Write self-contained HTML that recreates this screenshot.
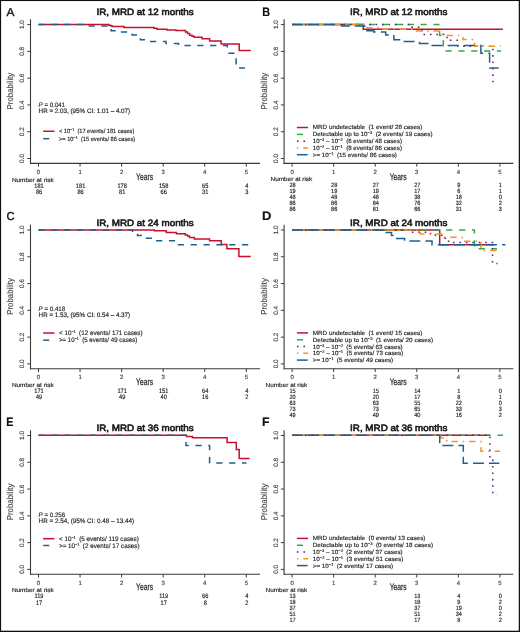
<!DOCTYPE html>
<html><head><meta charset="utf-8"><style>
html,body{margin:0;padding:0;background:#fff;}
svg{display:block;will-change:transform;}
text{font-family:"Liberation Sans", sans-serif;white-space:pre;text-rendering:geometricPrecision;}
</style></head><body>
<svg width="520" height="632" viewBox="0 0 520 632" font-family='"Liberation Sans", sans-serif'>
<rect x="0" y="0" width="520" height="632" fill="#fff"/>
<text transform="translate(6.5,16.2) scale(1.04,1)" font-size="11.4" fill="#111" stroke="#111" stroke-width="0.35">A</text>
<text x="145.10" y="15.00" font-size="9.2" text-anchor="middle" fill="#1a1a1a" font-weight="normal" textLength="97.3" lengthAdjust="spacingAndGlyphs" stroke="#1a1a1a" stroke-width="0.6">IR, MRD at 12 months</text>
<line x1="30.5" y1="19.3" x2="30.5" y2="163.9" stroke="#3a3a3a" stroke-width="1.1"/>
<line x1="27.3" y1="158.50" x2="30.5" y2="158.50" stroke="#3a3a3a" stroke-width="1"/>
<text transform="translate(23.90,158.50) rotate(-90)" font-size="6.4" text-anchor="middle" fill="#444" stroke="#444" stroke-width="0.15">0.0</text>
<line x1="27.3" y1="131.72" x2="30.5" y2="131.72" stroke="#3a3a3a" stroke-width="1"/>
<text transform="translate(23.90,131.72) rotate(-90)" font-size="6.4" text-anchor="middle" fill="#444" stroke="#444" stroke-width="0.15">0.2</text>
<line x1="27.3" y1="104.94" x2="30.5" y2="104.94" stroke="#3a3a3a" stroke-width="1"/>
<text transform="translate(23.90,104.94) rotate(-90)" font-size="6.4" text-anchor="middle" fill="#444" stroke="#444" stroke-width="0.15">0.4</text>
<line x1="27.3" y1="78.16" x2="30.5" y2="78.16" stroke="#3a3a3a" stroke-width="1"/>
<text transform="translate(23.90,78.16) rotate(-90)" font-size="6.4" text-anchor="middle" fill="#444" stroke="#444" stroke-width="0.15">0.6</text>
<line x1="27.3" y1="51.38" x2="30.5" y2="51.38" stroke="#3a3a3a" stroke-width="1"/>
<text transform="translate(23.90,51.38) rotate(-90)" font-size="6.4" text-anchor="middle" fill="#444" stroke="#444" stroke-width="0.15">0.8</text>
<line x1="27.3" y1="24.60" x2="30.5" y2="24.60" stroke="#3a3a3a" stroke-width="1"/>
<text transform="translate(23.90,24.60) rotate(-90)" font-size="6.4" text-anchor="middle" fill="#444" stroke="#444" stroke-width="0.15">1.0</text>
<text transform="translate(12.60,91.10) rotate(-90)" font-size="8.6" text-anchor="middle" fill="#484848" textLength="36.7" lengthAdjust="spacingAndGlyphs" stroke="#484848" stroke-width="0.15">Probability</text>
<line x1="30.0" y1="163.4" x2="260" y2="163.4" stroke="#3a3a3a" stroke-width="1.1"/>
<line x1="38.50" y1="163.4" x2="38.50" y2="166.6" stroke="#3a3a3a" stroke-width="1"/>
<text x="38.50" y="173.70" font-size="6.0" text-anchor="middle" fill="#444" font-weight="normal"  stroke="#444" stroke-width="0.15">0</text>
<line x1="80.06" y1="163.4" x2="80.06" y2="166.6" stroke="#3a3a3a" stroke-width="1"/>
<text x="80.06" y="173.70" font-size="6.0" text-anchor="middle" fill="#444" font-weight="normal"  stroke="#444" stroke-width="0.15">1</text>
<line x1="121.62" y1="163.4" x2="121.62" y2="166.6" stroke="#3a3a3a" stroke-width="1"/>
<text x="121.62" y="173.70" font-size="6.0" text-anchor="middle" fill="#444" font-weight="normal"  stroke="#444" stroke-width="0.15">2</text>
<line x1="163.18" y1="163.4" x2="163.18" y2="166.6" stroke="#3a3a3a" stroke-width="1"/>
<text x="163.18" y="173.70" font-size="6.0" text-anchor="middle" fill="#444" font-weight="normal"  stroke="#444" stroke-width="0.15">3</text>
<line x1="204.74" y1="163.4" x2="204.74" y2="166.6" stroke="#3a3a3a" stroke-width="1"/>
<text x="204.74" y="173.70" font-size="6.0" text-anchor="middle" fill="#444" font-weight="normal"  stroke="#444" stroke-width="0.15">4</text>
<line x1="246.30" y1="163.4" x2="246.30" y2="166.6" stroke="#3a3a3a" stroke-width="1"/>
<text x="246.30" y="173.70" font-size="6.0" text-anchor="middle" fill="#444" font-weight="normal"  stroke="#444" stroke-width="0.15">5</text>
<text x="136.10" y="179.50" font-size="9.5" text-anchor="start" fill="#2a2a2a" font-weight="normal" textLength="17.0" lengthAdjust="spacingAndGlyphs" stroke="#2a2a2a" stroke-width="0.25">Years</text>
<text x="38.60" y="106.70" font-size="6.5" fill="#222" textLength="26.6" lengthAdjust="spacingAndGlyphs" stroke="#222" stroke-width="0.15"><tspan font-style="italic">P</tspan> = 0.041</text>
<text x="38.60" y="112.70" font-size="6.4" text-anchor="start" fill="#222" font-weight="normal" textLength="91.6" lengthAdjust="spacingAndGlyphs"  stroke="#222" stroke-width="0.15">HR = 2.03, (95% CI: 1.01 – 4.07)</text>
<line x1="43.2" y1="131.25" x2="54.5" y2="131.25" stroke="#c41230" stroke-width="1.5"/>
<line x1="43.2" y1="138.7" x2="49.2" y2="138.7" stroke="#1f5f8e" stroke-width="1.5"/>
<text x="59.00" y="133.15" font-size="6.0" fill="#222" textLength="75.3" lengthAdjust="spacingAndGlyphs" stroke="#222" stroke-width="0.15">&lt; 10<tspan font-size="3.9" baseline-shift="2.3">−1</tspan>  (17 events/ 181 cases)</text>
<text x="59.00" y="140.60" font-size="6.0" fill="#222" textLength="76.2" lengthAdjust="spacingAndGlyphs" stroke="#222" stroke-width="0.15">&gt;= 10<tspan font-size="3.9" baseline-shift="2.3">−1</tspan>  (15 events/ 86 cases)</text>
<text x="11.90" y="181.50" font-size="5.9" text-anchor="start" fill="#222" font-weight="normal" textLength="41.8" lengthAdjust="spacingAndGlyphs"  stroke="#222" stroke-width="0.15">Number at risk</text>
<text transform="translate(39.00,187.50) scale(0.88,1)" font-size="6.4" text-anchor="middle" fill="#1a1a1a" stroke="#1a1a1a" stroke-width="0.15">181</text>
<text transform="translate(80.56,187.50) scale(0.88,1)" font-size="6.4" text-anchor="middle" fill="#1a1a1a" stroke="#1a1a1a" stroke-width="0.15">181</text>
<text transform="translate(122.12,187.50) scale(0.88,1)" font-size="6.4" text-anchor="middle" fill="#1a1a1a" stroke="#1a1a1a" stroke-width="0.15">178</text>
<text transform="translate(163.68,187.50) scale(0.88,1)" font-size="6.4" text-anchor="middle" fill="#1a1a1a" stroke="#1a1a1a" stroke-width="0.15">158</text>
<text transform="translate(205.24,187.50) scale(0.88,1)" font-size="6.4" text-anchor="middle" fill="#1a1a1a" stroke="#1a1a1a" stroke-width="0.15">65</text>
<text transform="translate(246.80,187.50) scale(0.88,1)" font-size="6.4" text-anchor="middle" fill="#1a1a1a" stroke="#1a1a1a" stroke-width="0.15">4</text>
<text transform="translate(39.00,193.80) scale(0.88,1)" font-size="6.4" text-anchor="middle" fill="#1a1a1a" stroke="#1a1a1a" stroke-width="0.15">86</text>
<text transform="translate(80.56,193.80) scale(0.88,1)" font-size="6.4" text-anchor="middle" fill="#1a1a1a" stroke="#1a1a1a" stroke-width="0.15">86</text>
<text transform="translate(122.12,193.80) scale(0.88,1)" font-size="6.4" text-anchor="middle" fill="#1a1a1a" stroke="#1a1a1a" stroke-width="0.15">81</text>
<text transform="translate(163.68,193.80) scale(0.88,1)" font-size="6.4" text-anchor="middle" fill="#1a1a1a" stroke="#1a1a1a" stroke-width="0.15">66</text>
<text transform="translate(205.24,193.80) scale(0.88,1)" font-size="6.4" text-anchor="middle" fill="#1a1a1a" stroke="#1a1a1a" stroke-width="0.15">31</text>
<text transform="translate(246.80,193.80) scale(0.88,1)" font-size="6.4" text-anchor="middle" fill="#1a1a1a" stroke="#1a1a1a" stroke-width="0.15">3</text>
<path d="M38.50,24.50H108.70V25.20H110.40V25.80H112.00V26.40H124.00V27.40H153.80V28.20H157.00V29.20H167.00V29.90H176.00V30.60H185.50V32.00H187.50V33.50H189.60V35.20H192.00V36.20H194.20V37.20H202.10V38.70H209.60V41.00H221.10V44.10H239.20V50.40H250.80" fill="none" stroke="#c41230" stroke-width="1.5" stroke-linejoin="miter"/>
<path d="M38.50,24.50H88.00V25.90H111.10V30.70H120.20V32.10H132.20V35.00H140.40V39.80H146.00V41.50H166.00V43.50H178.50V45.60H227.40V53.20H236.10V68.10H245.00" fill="none" stroke="#1f5f8e" stroke-width="1.5" stroke-dasharray="6.2 6.65" stroke-linejoin="miter"/>
<text transform="translate(6.4,220.4) scale(0.99,1)" font-size="11.4" fill="#111" stroke="#111" stroke-width="0.35">C</text>
<text x="145.10" y="225.60" font-size="9.2" text-anchor="middle" fill="#1a1a1a" font-weight="normal" textLength="97.3" lengthAdjust="spacingAndGlyphs" stroke="#1a1a1a" stroke-width="0.6">IR, MRD at 24 months</text>
<line x1="30.5" y1="224.70000000000002" x2="30.5" y2="369.3" stroke="#3a3a3a" stroke-width="1.1"/>
<line x1="27.3" y1="363.90" x2="30.5" y2="363.90" stroke="#3a3a3a" stroke-width="1"/>
<text transform="translate(23.90,363.90) rotate(-90)" font-size="6.4" text-anchor="middle" fill="#444" stroke="#444" stroke-width="0.15">0.0</text>
<line x1="27.3" y1="337.12" x2="30.5" y2="337.12" stroke="#3a3a3a" stroke-width="1"/>
<text transform="translate(23.90,337.12) rotate(-90)" font-size="6.4" text-anchor="middle" fill="#444" stroke="#444" stroke-width="0.15">0.2</text>
<line x1="27.3" y1="310.34" x2="30.5" y2="310.34" stroke="#3a3a3a" stroke-width="1"/>
<text transform="translate(23.90,310.34) rotate(-90)" font-size="6.4" text-anchor="middle" fill="#444" stroke="#444" stroke-width="0.15">0.4</text>
<line x1="27.3" y1="283.56" x2="30.5" y2="283.56" stroke="#3a3a3a" stroke-width="1"/>
<text transform="translate(23.90,283.56) rotate(-90)" font-size="6.4" text-anchor="middle" fill="#444" stroke="#444" stroke-width="0.15">0.6</text>
<line x1="27.3" y1="256.78" x2="30.5" y2="256.78" stroke="#3a3a3a" stroke-width="1"/>
<text transform="translate(23.90,256.78) rotate(-90)" font-size="6.4" text-anchor="middle" fill="#444" stroke="#444" stroke-width="0.15">0.8</text>
<line x1="27.3" y1="230.00" x2="30.5" y2="230.00" stroke="#3a3a3a" stroke-width="1"/>
<text transform="translate(23.90,230.00) rotate(-90)" font-size="6.4" text-anchor="middle" fill="#444" stroke="#444" stroke-width="0.15">1.0</text>
<text transform="translate(12.60,296.50) rotate(-90)" font-size="8.6" text-anchor="middle" fill="#484848" textLength="36.7" lengthAdjust="spacingAndGlyphs" stroke="#484848" stroke-width="0.15">Probability</text>
<line x1="30.0" y1="368.8" x2="260" y2="368.8" stroke="#3a3a3a" stroke-width="1.1"/>
<line x1="38.50" y1="368.8" x2="38.50" y2="372.0" stroke="#3a3a3a" stroke-width="1"/>
<text x="38.50" y="379.10" font-size="6.0" text-anchor="middle" fill="#444" font-weight="normal"  stroke="#444" stroke-width="0.15">0</text>
<line x1="80.06" y1="368.8" x2="80.06" y2="372.0" stroke="#3a3a3a" stroke-width="1"/>
<text x="80.06" y="379.10" font-size="6.0" text-anchor="middle" fill="#444" font-weight="normal"  stroke="#444" stroke-width="0.15">1</text>
<line x1="121.62" y1="368.8" x2="121.62" y2="372.0" stroke="#3a3a3a" stroke-width="1"/>
<text x="121.62" y="379.10" font-size="6.0" text-anchor="middle" fill="#444" font-weight="normal"  stroke="#444" stroke-width="0.15">2</text>
<line x1="163.18" y1="368.8" x2="163.18" y2="372.0" stroke="#3a3a3a" stroke-width="1"/>
<text x="163.18" y="379.10" font-size="6.0" text-anchor="middle" fill="#444" font-weight="normal"  stroke="#444" stroke-width="0.15">3</text>
<line x1="204.74" y1="368.8" x2="204.74" y2="372.0" stroke="#3a3a3a" stroke-width="1"/>
<text x="204.74" y="379.10" font-size="6.0" text-anchor="middle" fill="#444" font-weight="normal"  stroke="#444" stroke-width="0.15">4</text>
<line x1="246.30" y1="368.8" x2="246.30" y2="372.0" stroke="#3a3a3a" stroke-width="1"/>
<text x="246.30" y="379.10" font-size="6.0" text-anchor="middle" fill="#444" font-weight="normal"  stroke="#444" stroke-width="0.15">5</text>
<text x="136.10" y="384.90" font-size="9.5" text-anchor="start" fill="#2a2a2a" font-weight="normal" textLength="17.0" lengthAdjust="spacingAndGlyphs" stroke="#2a2a2a" stroke-width="0.25">Years</text>
<text x="38.60" y="311.10" font-size="6.5" fill="#222" textLength="26.6" lengthAdjust="spacingAndGlyphs" stroke="#222" stroke-width="0.15"><tspan font-style="italic">P</tspan> = 0.418</text>
<text x="38.60" y="317.10" font-size="6.4" text-anchor="start" fill="#222" font-weight="normal" textLength="91.6" lengthAdjust="spacingAndGlyphs"  stroke="#222" stroke-width="0.15">HR = 1.53, (95% CI: 0.54 – 4.37)</text>
<line x1="43.2" y1="333.0" x2="54.5" y2="333.0" stroke="#c41230" stroke-width="1.5"/>
<line x1="43.2" y1="340.20000000000005" x2="49.2" y2="340.20000000000005" stroke="#1f5f8e" stroke-width="1.5"/>
<text x="59.00" y="335.20" font-size="6.6" fill="#222" textLength="83.6" lengthAdjust="spacingAndGlyphs" stroke="#222" stroke-width="0.15">&lt; 10<tspan font-size="3.9" baseline-shift="2.3">−1</tspan>  (12 events/ 171 cases)</text>
<text x="59.00" y="342.40" font-size="6.6" fill="#222" textLength="78.3" lengthAdjust="spacingAndGlyphs" stroke="#222" stroke-width="0.15">&gt;= 10<tspan font-size="3.9" baseline-shift="2.3">−1</tspan>  (5 events/ 49 cases)</text>
<text x="11.90" y="386.90" font-size="5.9" text-anchor="start" fill="#222" font-weight="normal" textLength="41.8" lengthAdjust="spacingAndGlyphs"  stroke="#222" stroke-width="0.15">Number at risk</text>
<text transform="translate(39.00,392.90) scale(0.88,1)" font-size="6.4" text-anchor="middle" fill="#1a1a1a" stroke="#1a1a1a" stroke-width="0.15">171</text>
<text transform="translate(122.12,392.90) scale(0.88,1)" font-size="6.4" text-anchor="middle" fill="#1a1a1a" stroke="#1a1a1a" stroke-width="0.15">171</text>
<text transform="translate(163.68,392.90) scale(0.88,1)" font-size="6.4" text-anchor="middle" fill="#1a1a1a" stroke="#1a1a1a" stroke-width="0.15">151</text>
<text transform="translate(205.24,392.90) scale(0.88,1)" font-size="6.4" text-anchor="middle" fill="#1a1a1a" stroke="#1a1a1a" stroke-width="0.15">64</text>
<text transform="translate(246.80,392.90) scale(0.88,1)" font-size="6.4" text-anchor="middle" fill="#1a1a1a" stroke="#1a1a1a" stroke-width="0.15">4</text>
<text transform="translate(39.00,399.20) scale(0.88,1)" font-size="6.4" text-anchor="middle" fill="#1a1a1a" stroke="#1a1a1a" stroke-width="0.15">49</text>
<text transform="translate(122.12,399.20) scale(0.88,1)" font-size="6.4" text-anchor="middle" fill="#1a1a1a" stroke="#1a1a1a" stroke-width="0.15">49</text>
<text transform="translate(163.68,399.20) scale(0.88,1)" font-size="6.4" text-anchor="middle" fill="#1a1a1a" stroke="#1a1a1a" stroke-width="0.15">40</text>
<text transform="translate(205.24,399.20) scale(0.88,1)" font-size="6.4" text-anchor="middle" fill="#1a1a1a" stroke="#1a1a1a" stroke-width="0.15">16</text>
<text transform="translate(246.80,399.20) scale(0.88,1)" font-size="6.4" text-anchor="middle" fill="#1a1a1a" stroke="#1a1a1a" stroke-width="0.15">2</text>
<path d="M38.50,230.00H154.30V230.80H166.30V232.40H176.40V233.80H185.40V235.00H187.50V236.10H189.50V237.40H194.40V239.10H209.50V240.80H221.20V244.50H226.90V248.80H238.90V256.50H250.80" fill="none" stroke="#c41230" stroke-width="1.5" stroke-linejoin="miter"/>
<path d="M38.50,229.90H132.50V232.40H137.50V235.60H143.00V238.30H153.00V240.80H176.00V244.80H248.50" fill="none" stroke="#1f5f8e" stroke-width="1.5" stroke-dasharray="6.2 6.65" stroke-linejoin="miter"/>
<text transform="translate(6.2,425.8) scale(0.88,1)" font-size="12.2" font-weight="bold" fill="#111" stroke="#111" stroke-width="0.15">E</text>
<text x="145.10" y="430.60" font-size="9.2" text-anchor="middle" fill="#1a1a1a" font-weight="normal" textLength="97.3" lengthAdjust="spacingAndGlyphs" stroke="#1a1a1a" stroke-width="0.6">IR, MRD at 36 months</text>
<line x1="30.5" y1="430.2" x2="30.5" y2="574.8" stroke="#3a3a3a" stroke-width="1.1"/>
<line x1="27.3" y1="569.40" x2="30.5" y2="569.40" stroke="#3a3a3a" stroke-width="1"/>
<text transform="translate(23.90,569.40) rotate(-90)" font-size="6.4" text-anchor="middle" fill="#444" stroke="#444" stroke-width="0.15">0.0</text>
<line x1="27.3" y1="542.62" x2="30.5" y2="542.62" stroke="#3a3a3a" stroke-width="1"/>
<text transform="translate(23.90,542.62) rotate(-90)" font-size="6.4" text-anchor="middle" fill="#444" stroke="#444" stroke-width="0.15">0.2</text>
<line x1="27.3" y1="515.84" x2="30.5" y2="515.84" stroke="#3a3a3a" stroke-width="1"/>
<text transform="translate(23.90,515.84) rotate(-90)" font-size="6.4" text-anchor="middle" fill="#444" stroke="#444" stroke-width="0.15">0.4</text>
<line x1="27.3" y1="489.06" x2="30.5" y2="489.06" stroke="#3a3a3a" stroke-width="1"/>
<text transform="translate(23.90,489.06) rotate(-90)" font-size="6.4" text-anchor="middle" fill="#444" stroke="#444" stroke-width="0.15">0.6</text>
<line x1="27.3" y1="462.28" x2="30.5" y2="462.28" stroke="#3a3a3a" stroke-width="1"/>
<text transform="translate(23.90,462.28) rotate(-90)" font-size="6.4" text-anchor="middle" fill="#444" stroke="#444" stroke-width="0.15">0.8</text>
<line x1="27.3" y1="435.50" x2="30.5" y2="435.50" stroke="#3a3a3a" stroke-width="1"/>
<text transform="translate(23.90,435.50) rotate(-90)" font-size="6.4" text-anchor="middle" fill="#444" stroke="#444" stroke-width="0.15">1.0</text>
<text transform="translate(12.60,502.00) rotate(-90)" font-size="8.6" text-anchor="middle" fill="#484848" textLength="36.7" lengthAdjust="spacingAndGlyphs" stroke="#484848" stroke-width="0.15">Probability</text>
<line x1="30.0" y1="574.3" x2="260" y2="574.3" stroke="#3a3a3a" stroke-width="1.1"/>
<line x1="38.50" y1="574.3" x2="38.50" y2="577.5" stroke="#3a3a3a" stroke-width="1"/>
<text x="38.50" y="584.60" font-size="6.0" text-anchor="middle" fill="#444" font-weight="normal"  stroke="#444" stroke-width="0.15">0</text>
<line x1="80.06" y1="574.3" x2="80.06" y2="577.5" stroke="#3a3a3a" stroke-width="1"/>
<text x="80.06" y="584.60" font-size="6.0" text-anchor="middle" fill="#444" font-weight="normal"  stroke="#444" stroke-width="0.15">1</text>
<line x1="121.62" y1="574.3" x2="121.62" y2="577.5" stroke="#3a3a3a" stroke-width="1"/>
<text x="121.62" y="584.60" font-size="6.0" text-anchor="middle" fill="#444" font-weight="normal"  stroke="#444" stroke-width="0.15">2</text>
<line x1="163.18" y1="574.3" x2="163.18" y2="577.5" stroke="#3a3a3a" stroke-width="1"/>
<text x="163.18" y="584.60" font-size="6.0" text-anchor="middle" fill="#444" font-weight="normal"  stroke="#444" stroke-width="0.15">3</text>
<line x1="204.74" y1="574.3" x2="204.74" y2="577.5" stroke="#3a3a3a" stroke-width="1"/>
<text x="204.74" y="584.60" font-size="6.0" text-anchor="middle" fill="#444" font-weight="normal"  stroke="#444" stroke-width="0.15">4</text>
<line x1="246.30" y1="574.3" x2="246.30" y2="577.5" stroke="#3a3a3a" stroke-width="1"/>
<text x="246.30" y="584.60" font-size="6.0" text-anchor="middle" fill="#444" font-weight="normal"  stroke="#444" stroke-width="0.15">5</text>
<text x="136.10" y="590.40" font-size="9.5" text-anchor="start" fill="#2a2a2a" font-weight="normal" textLength="17.0" lengthAdjust="spacingAndGlyphs" stroke="#2a2a2a" stroke-width="0.25">Years</text>
<text x="38.60" y="516.70" font-size="6.5" fill="#222" textLength="26.6" lengthAdjust="spacingAndGlyphs" stroke="#222" stroke-width="0.15"><tspan font-style="italic">P</tspan> = 0.256</text>
<text x="38.60" y="522.70" font-size="6.4" text-anchor="start" fill="#222" font-weight="normal" textLength="95.5" lengthAdjust="spacingAndGlyphs"  stroke="#222" stroke-width="0.15">HR = 2.54, (95% CI: 0.48 – 13.44)</text>
<line x1="43.2" y1="538.6999999999999" x2="54.5" y2="538.6999999999999" stroke="#c41230" stroke-width="1.5"/>
<line x1="43.2" y1="545.5" x2="49.2" y2="545.5" stroke="#1f5f8e" stroke-width="1.5"/>
<text x="59.00" y="540.90" font-size="6.6" fill="#222" textLength="79.8" lengthAdjust="spacingAndGlyphs" stroke="#222" stroke-width="0.15">&lt; 10<tspan font-size="3.9" baseline-shift="2.3">−1</tspan>  (5 events/ 119 cases)</text>
<text x="59.00" y="547.70" font-size="6.6" fill="#222" textLength="80.6" lengthAdjust="spacingAndGlyphs" stroke="#222" stroke-width="0.15">&gt;= 10<tspan font-size="3.9" baseline-shift="2.3">−1</tspan>  (2 events/ 17 cases)</text>
<text x="11.90" y="592.40" font-size="5.9" text-anchor="start" fill="#222" font-weight="normal" textLength="41.8" lengthAdjust="spacingAndGlyphs"  stroke="#222" stroke-width="0.15">Number at risk</text>
<text transform="translate(39.00,598.40) scale(0.88,1)" font-size="6.4" text-anchor="middle" fill="#1a1a1a" stroke="#1a1a1a" stroke-width="0.15">119</text>
<text transform="translate(163.68,598.40) scale(0.88,1)" font-size="6.4" text-anchor="middle" fill="#1a1a1a" stroke="#1a1a1a" stroke-width="0.15">119</text>
<text transform="translate(205.24,598.40) scale(0.88,1)" font-size="6.4" text-anchor="middle" fill="#1a1a1a" stroke="#1a1a1a" stroke-width="0.15">66</text>
<text transform="translate(246.80,598.40) scale(0.88,1)" font-size="6.4" text-anchor="middle" fill="#1a1a1a" stroke="#1a1a1a" stroke-width="0.15">4</text>
<text transform="translate(39.00,604.70) scale(0.88,1)" font-size="6.4" text-anchor="middle" fill="#1a1a1a" stroke="#1a1a1a" stroke-width="0.15">17</text>
<text transform="translate(163.68,604.70) scale(0.88,1)" font-size="6.4" text-anchor="middle" fill="#1a1a1a" stroke="#1a1a1a" stroke-width="0.15">17</text>
<text transform="translate(205.24,604.70) scale(0.88,1)" font-size="6.4" text-anchor="middle" fill="#1a1a1a" stroke="#1a1a1a" stroke-width="0.15">8</text>
<text transform="translate(246.80,604.70) scale(0.88,1)" font-size="6.4" text-anchor="middle" fill="#1a1a1a" stroke="#1a1a1a" stroke-width="0.15">2</text>
<path d="M38.50,435.30H186.40V436.60H192.50V437.80H227.10V442.50H236.30V449.40H239.20V458.50H249.60" fill="none" stroke="#c41230" stroke-width="1.5" stroke-linejoin="miter"/>
<path d="M38.50,435.30H186.00V445.40H209.60V463.10H246.50" fill="none" stroke="#1f5f8e" stroke-width="1.5" stroke-dasharray="6.2 6.65" stroke-linejoin="miter"/>
<text transform="translate(262.2,16.1) scale(0.89,1)" font-size="12.2" font-weight="bold" fill="#111" stroke="#111" stroke-width="0.15">B</text>
<text x="398.70" y="15.00" font-size="9.2" text-anchor="middle" fill="#1a1a1a" font-weight="normal" textLength="97.3" lengthAdjust="spacingAndGlyphs" stroke="#1a1a1a" stroke-width="0.6">IR, MRD at 12 months</text>
<line x1="284.1" y1="19.3" x2="284.1" y2="163.9" stroke="#3a3a3a" stroke-width="1.1"/>
<line x1="280.90000000000003" y1="158.50" x2="284.1" y2="158.50" stroke="#3a3a3a" stroke-width="1"/>
<text transform="translate(277.50,158.50) rotate(-90)" font-size="6.4" text-anchor="middle" fill="#444" stroke="#444" stroke-width="0.15">0.0</text>
<line x1="280.90000000000003" y1="131.72" x2="284.1" y2="131.72" stroke="#3a3a3a" stroke-width="1"/>
<text transform="translate(277.50,131.72) rotate(-90)" font-size="6.4" text-anchor="middle" fill="#444" stroke="#444" stroke-width="0.15">0.2</text>
<line x1="280.90000000000003" y1="104.94" x2="284.1" y2="104.94" stroke="#3a3a3a" stroke-width="1"/>
<text transform="translate(277.50,104.94) rotate(-90)" font-size="6.4" text-anchor="middle" fill="#444" stroke="#444" stroke-width="0.15">0.4</text>
<line x1="280.90000000000003" y1="78.16" x2="284.1" y2="78.16" stroke="#3a3a3a" stroke-width="1"/>
<text transform="translate(277.50,78.16) rotate(-90)" font-size="6.4" text-anchor="middle" fill="#444" stroke="#444" stroke-width="0.15">0.6</text>
<line x1="280.90000000000003" y1="51.38" x2="284.1" y2="51.38" stroke="#3a3a3a" stroke-width="1"/>
<text transform="translate(277.50,51.38) rotate(-90)" font-size="6.4" text-anchor="middle" fill="#444" stroke="#444" stroke-width="0.15">0.8</text>
<line x1="280.90000000000003" y1="24.60" x2="284.1" y2="24.60" stroke="#3a3a3a" stroke-width="1"/>
<text transform="translate(277.50,24.60) rotate(-90)" font-size="6.4" text-anchor="middle" fill="#444" stroke="#444" stroke-width="0.15">1.0</text>
<text transform="translate(267.20,91.10) rotate(-90)" font-size="8.6" text-anchor="middle" fill="#484848" textLength="36.7" lengthAdjust="spacingAndGlyphs" stroke="#484848" stroke-width="0.15">Probability</text>
<line x1="283.6" y1="163.4" x2="513.3" y2="163.4" stroke="#3a3a3a" stroke-width="1.1"/>
<line x1="292.10" y1="163.4" x2="292.10" y2="166.6" stroke="#3a3a3a" stroke-width="1"/>
<text x="292.10" y="173.70" font-size="6.0" text-anchor="middle" fill="#444" font-weight="normal"  stroke="#444" stroke-width="0.15">0</text>
<line x1="333.66" y1="163.4" x2="333.66" y2="166.6" stroke="#3a3a3a" stroke-width="1"/>
<text x="333.66" y="173.70" font-size="6.0" text-anchor="middle" fill="#444" font-weight="normal"  stroke="#444" stroke-width="0.15">1</text>
<line x1="375.22" y1="163.4" x2="375.22" y2="166.6" stroke="#3a3a3a" stroke-width="1"/>
<text x="375.22" y="173.70" font-size="6.0" text-anchor="middle" fill="#444" font-weight="normal"  stroke="#444" stroke-width="0.15">2</text>
<line x1="416.78" y1="163.4" x2="416.78" y2="166.6" stroke="#3a3a3a" stroke-width="1"/>
<text x="416.78" y="173.70" font-size="6.0" text-anchor="middle" fill="#444" font-weight="normal"  stroke="#444" stroke-width="0.15">3</text>
<line x1="458.34" y1="163.4" x2="458.34" y2="166.6" stroke="#3a3a3a" stroke-width="1"/>
<text x="458.34" y="173.70" font-size="6.0" text-anchor="middle" fill="#444" font-weight="normal"  stroke="#444" stroke-width="0.15">4</text>
<line x1="499.90" y1="163.4" x2="499.90" y2="166.6" stroke="#3a3a3a" stroke-width="1"/>
<text x="499.90" y="173.70" font-size="6.0" text-anchor="middle" fill="#444" font-weight="normal"  stroke="#444" stroke-width="0.15">5</text>
<text x="389.70" y="179.50" font-size="9.5" text-anchor="start" fill="#2a2a2a" font-weight="normal" textLength="17.0" lengthAdjust="spacingAndGlyphs" stroke="#2a2a2a" stroke-width="0.25">Years</text>
<line x1="296.9" y1="127.5" x2="308.1" y2="127.5" stroke="#c41230" stroke-width="1.5"/>
<line x1="296.9" y1="134.4" x2="303.0" y2="134.4" stroke="#2eac45" stroke-width="1.5"/>
<line x1="296.9" y1="141.2" x2="308.1" y2="141.2" stroke="#5b2278" stroke-width="1.5" stroke-dasharray="1.6 4.9"/>
<line x1="296.9" y1="147.9" x2="308.1" y2="147.9" stroke="#f7941d" stroke-width="1.5" stroke-dasharray="1.4 4.9 6.4 4.9"/>
<line x1="296.9" y1="154.7" x2="307.70000000000005" y2="154.7" stroke="#1f5f8e" stroke-width="1.5"/>
<text x="312.80" y="129.40" font-size="6" fill="#222" textLength="109.5" lengthAdjust="spacingAndGlyphs" stroke="#222" stroke-width="0.15">MRD undetectable  (1 event/ 28 cases)</text>
<text x="312.80" y="136.30" font-size="6" fill="#222" textLength="119.8" lengthAdjust="spacingAndGlyphs" stroke="#222" stroke-width="0.15">Detectable up to 10<tspan font-size="3.9" baseline-shift="2.3">−3</tspan>  (2 events/ 19 cases)</text>
<text x="312.80" y="143.10" font-size="6" fill="#222" textLength="89.2" lengthAdjust="spacingAndGlyphs" stroke="#222" stroke-width="0.15">10<tspan font-size="3.9" baseline-shift="2.3">−3</tspan> – 10<tspan font-size="3.9" baseline-shift="2.3">−2</tspan>  (6 events/ 48 cases)</text>
<text x="312.80" y="149.80" font-size="6" fill="#222" textLength="89.2" lengthAdjust="spacingAndGlyphs" stroke="#222" stroke-width="0.15">10<tspan font-size="3.9" baseline-shift="2.3">−2</tspan> – 10<tspan font-size="3.9" baseline-shift="2.3">−1</tspan>  (8 events/ 86 cases)</text>
<text x="312.80" y="156.60" font-size="6" fill="#222" textLength="84.1" lengthAdjust="spacingAndGlyphs" stroke="#222" stroke-width="0.15">&gt;= 10<tspan font-size="3.9" baseline-shift="2.3">−1</tspan>  (15 events/ 86 cases)</text>
<text x="270.50" y="181.30" font-size="5.9" text-anchor="start" fill="#222" font-weight="normal" textLength="41.8" lengthAdjust="spacingAndGlyphs"  stroke="#222" stroke-width="0.15">Number at risk</text>
<text transform="translate(292.60,187.10) scale(0.9,1)" font-size="6.2" text-anchor="middle" fill="#1a1a1a" stroke="#1a1a1a" stroke-width="0.15">28</text>
<text transform="translate(334.16,187.10) scale(0.9,1)" font-size="6.2" text-anchor="middle" fill="#1a1a1a" stroke="#1a1a1a" stroke-width="0.15">28</text>
<text transform="translate(375.72,187.10) scale(0.9,1)" font-size="6.2" text-anchor="middle" fill="#1a1a1a" stroke="#1a1a1a" stroke-width="0.15">27</text>
<text transform="translate(417.28,187.10) scale(0.9,1)" font-size="6.2" text-anchor="middle" fill="#1a1a1a" stroke="#1a1a1a" stroke-width="0.15">27</text>
<text transform="translate(458.84,187.10) scale(0.9,1)" font-size="6.2" text-anchor="middle" fill="#1a1a1a" stroke="#1a1a1a" stroke-width="0.15">9</text>
<text transform="translate(500.40,187.10) scale(0.9,1)" font-size="6.2" text-anchor="middle" fill="#1a1a1a" stroke="#1a1a1a" stroke-width="0.15">1</text>
<text transform="translate(292.60,193.10) scale(0.9,1)" font-size="6.2" text-anchor="middle" fill="#1a1a1a" stroke="#1a1a1a" stroke-width="0.15">19</text>
<text transform="translate(334.16,193.10) scale(0.9,1)" font-size="6.2" text-anchor="middle" fill="#1a1a1a" stroke="#1a1a1a" stroke-width="0.15">19</text>
<text transform="translate(375.72,193.10) scale(0.9,1)" font-size="6.2" text-anchor="middle" fill="#1a1a1a" stroke="#1a1a1a" stroke-width="0.15">19</text>
<text transform="translate(417.28,193.10) scale(0.9,1)" font-size="6.2" text-anchor="middle" fill="#1a1a1a" stroke="#1a1a1a" stroke-width="0.15">17</text>
<text transform="translate(458.84,193.10) scale(0.9,1)" font-size="6.2" text-anchor="middle" fill="#1a1a1a" stroke="#1a1a1a" stroke-width="0.15">6</text>
<text transform="translate(500.40,193.10) scale(0.9,1)" font-size="6.2" text-anchor="middle" fill="#1a1a1a" stroke="#1a1a1a" stroke-width="0.15">1</text>
<text transform="translate(292.60,199.10) scale(0.9,1)" font-size="6.2" text-anchor="middle" fill="#1a1a1a" stroke="#1a1a1a" stroke-width="0.15">48</text>
<text transform="translate(334.16,199.10) scale(0.9,1)" font-size="6.2" text-anchor="middle" fill="#1a1a1a" stroke="#1a1a1a" stroke-width="0.15">48</text>
<text transform="translate(375.72,199.10) scale(0.9,1)" font-size="6.2" text-anchor="middle" fill="#1a1a1a" stroke="#1a1a1a" stroke-width="0.15">48</text>
<text transform="translate(417.28,199.10) scale(0.9,1)" font-size="6.2" text-anchor="middle" fill="#1a1a1a" stroke="#1a1a1a" stroke-width="0.15">38</text>
<text transform="translate(458.84,199.10) scale(0.9,1)" font-size="6.2" text-anchor="middle" fill="#1a1a1a" stroke="#1a1a1a" stroke-width="0.15">18</text>
<text transform="translate(500.40,199.10) scale(0.9,1)" font-size="6.2" text-anchor="middle" fill="#1a1a1a" stroke="#1a1a1a" stroke-width="0.15">0</text>
<text transform="translate(292.60,205.10) scale(0.9,1)" font-size="6.2" text-anchor="middle" fill="#1a1a1a" stroke="#1a1a1a" stroke-width="0.15">86</text>
<text transform="translate(334.16,205.10) scale(0.9,1)" font-size="6.2" text-anchor="middle" fill="#1a1a1a" stroke="#1a1a1a" stroke-width="0.15">86</text>
<text transform="translate(375.72,205.10) scale(0.9,1)" font-size="6.2" text-anchor="middle" fill="#1a1a1a" stroke="#1a1a1a" stroke-width="0.15">84</text>
<text transform="translate(417.28,205.10) scale(0.9,1)" font-size="6.2" text-anchor="middle" fill="#1a1a1a" stroke="#1a1a1a" stroke-width="0.15">76</text>
<text transform="translate(458.84,205.10) scale(0.9,1)" font-size="6.2" text-anchor="middle" fill="#1a1a1a" stroke="#1a1a1a" stroke-width="0.15">32</text>
<text transform="translate(500.40,205.10) scale(0.9,1)" font-size="6.2" text-anchor="middle" fill="#1a1a1a" stroke="#1a1a1a" stroke-width="0.15">2</text>
<text transform="translate(292.60,211.10) scale(0.9,1)" font-size="6.2" text-anchor="middle" fill="#1a1a1a" stroke="#1a1a1a" stroke-width="0.15">86</text>
<text transform="translate(334.16,211.10) scale(0.9,1)" font-size="6.2" text-anchor="middle" fill="#1a1a1a" stroke="#1a1a1a" stroke-width="0.15">86</text>
<text transform="translate(375.72,211.10) scale(0.9,1)" font-size="6.2" text-anchor="middle" fill="#1a1a1a" stroke="#1a1a1a" stroke-width="0.15">81</text>
<text transform="translate(417.28,211.10) scale(0.9,1)" font-size="6.2" text-anchor="middle" fill="#1a1a1a" stroke="#1a1a1a" stroke-width="0.15">66</text>
<text transform="translate(458.84,211.10) scale(0.9,1)" font-size="6.2" text-anchor="middle" fill="#1a1a1a" stroke="#1a1a1a" stroke-width="0.15">31</text>
<text transform="translate(500.40,211.10) scale(0.9,1)" font-size="6.2" text-anchor="middle" fill="#1a1a1a" stroke="#1a1a1a" stroke-width="0.15">3</text>
<path d="M292.00,24.50H363.20V29.30H502.90" fill="none" stroke="#c41230" stroke-width="1.5" stroke-linejoin="miter"/>
<path d="M292.00,24.50H439.60V35.40H443.30V50.90H501.00" fill="none" stroke="#2eac45" stroke-width="1.5" stroke-dasharray="6.2 6.65" stroke-linejoin="miter"/>
<path d="M292.00,24.50H410.00V27.30H422.00V34.50H447.00V40.20H458.00V46.30H492.90V82.30H492.90" fill="none" stroke="#5b2278" stroke-width="1.5" stroke-dasharray="1.6 4.83" stroke-linejoin="miter"/>
<path d="M292.00,24.50H363.20V27.80H380.00V29.30H413.00V31.00H442.50V35.60H462.90V39.50H474.70V46.30H501.00" fill="none" stroke="#f7941d" stroke-width="1.5" stroke-dasharray="1.6 4.83 6.43 4.83" stroke-linejoin="miter"/>
<path d="M292.00,24.50H341.50V25.90H364.60V30.70H373.70V32.10H385.70V35.00H393.90V39.80H399.50V41.50H419.50V43.50H432.00V45.60H480.90V53.20H489.60V68.10H498.50" fill="none" stroke="#1f5f8e" stroke-width="1.5" stroke-dasharray="10.9 5.17" stroke-linejoin="miter"/>
<text transform="translate(262.1,220.4) scale(1.07,1)" font-size="12.2" font-weight="bold" fill="#111" stroke="#111" stroke-width="0.15">D</text>
<text x="398.70" y="225.60" font-size="9.2" text-anchor="middle" fill="#1a1a1a" font-weight="normal" textLength="97.3" lengthAdjust="spacingAndGlyphs" stroke="#1a1a1a" stroke-width="0.6">IR, MRD at 24 months</text>
<line x1="284.1" y1="224.70000000000002" x2="284.1" y2="369.3" stroke="#3a3a3a" stroke-width="1.1"/>
<line x1="280.90000000000003" y1="363.90" x2="284.1" y2="363.90" stroke="#3a3a3a" stroke-width="1"/>
<text transform="translate(277.50,363.90) rotate(-90)" font-size="6.4" text-anchor="middle" fill="#444" stroke="#444" stroke-width="0.15">0.0</text>
<line x1="280.90000000000003" y1="337.12" x2="284.1" y2="337.12" stroke="#3a3a3a" stroke-width="1"/>
<text transform="translate(277.50,337.12) rotate(-90)" font-size="6.4" text-anchor="middle" fill="#444" stroke="#444" stroke-width="0.15">0.2</text>
<line x1="280.90000000000003" y1="310.34" x2="284.1" y2="310.34" stroke="#3a3a3a" stroke-width="1"/>
<text transform="translate(277.50,310.34) rotate(-90)" font-size="6.4" text-anchor="middle" fill="#444" stroke="#444" stroke-width="0.15">0.4</text>
<line x1="280.90000000000003" y1="283.56" x2="284.1" y2="283.56" stroke="#3a3a3a" stroke-width="1"/>
<text transform="translate(277.50,283.56) rotate(-90)" font-size="6.4" text-anchor="middle" fill="#444" stroke="#444" stroke-width="0.15">0.6</text>
<line x1="280.90000000000003" y1="256.78" x2="284.1" y2="256.78" stroke="#3a3a3a" stroke-width="1"/>
<text transform="translate(277.50,256.78) rotate(-90)" font-size="6.4" text-anchor="middle" fill="#444" stroke="#444" stroke-width="0.15">0.8</text>
<line x1="280.90000000000003" y1="230.00" x2="284.1" y2="230.00" stroke="#3a3a3a" stroke-width="1"/>
<text transform="translate(277.50,230.00) rotate(-90)" font-size="6.4" text-anchor="middle" fill="#444" stroke="#444" stroke-width="0.15">1.0</text>
<text transform="translate(267.20,296.50) rotate(-90)" font-size="8.6" text-anchor="middle" fill="#484848" textLength="36.7" lengthAdjust="spacingAndGlyphs" stroke="#484848" stroke-width="0.15">Probability</text>
<line x1="283.6" y1="368.8" x2="513.3" y2="368.8" stroke="#3a3a3a" stroke-width="1.1"/>
<line x1="292.10" y1="368.8" x2="292.10" y2="372.0" stroke="#3a3a3a" stroke-width="1"/>
<text x="292.10" y="379.10" font-size="6.0" text-anchor="middle" fill="#444" font-weight="normal"  stroke="#444" stroke-width="0.15">0</text>
<line x1="333.66" y1="368.8" x2="333.66" y2="372.0" stroke="#3a3a3a" stroke-width="1"/>
<text x="333.66" y="379.10" font-size="6.0" text-anchor="middle" fill="#444" font-weight="normal"  stroke="#444" stroke-width="0.15">1</text>
<line x1="375.22" y1="368.8" x2="375.22" y2="372.0" stroke="#3a3a3a" stroke-width="1"/>
<text x="375.22" y="379.10" font-size="6.0" text-anchor="middle" fill="#444" font-weight="normal"  stroke="#444" stroke-width="0.15">2</text>
<line x1="416.78" y1="368.8" x2="416.78" y2="372.0" stroke="#3a3a3a" stroke-width="1"/>
<text x="416.78" y="379.10" font-size="6.0" text-anchor="middle" fill="#444" font-weight="normal"  stroke="#444" stroke-width="0.15">3</text>
<line x1="458.34" y1="368.8" x2="458.34" y2="372.0" stroke="#3a3a3a" stroke-width="1"/>
<text x="458.34" y="379.10" font-size="6.0" text-anchor="middle" fill="#444" font-weight="normal"  stroke="#444" stroke-width="0.15">4</text>
<line x1="499.90" y1="368.8" x2="499.90" y2="372.0" stroke="#3a3a3a" stroke-width="1"/>
<text x="499.90" y="379.10" font-size="6.0" text-anchor="middle" fill="#444" font-weight="normal"  stroke="#444" stroke-width="0.15">5</text>
<text x="389.70" y="384.90" font-size="9.5" text-anchor="start" fill="#2a2a2a" font-weight="normal" textLength="17.0" lengthAdjust="spacingAndGlyphs" stroke="#2a2a2a" stroke-width="0.25">Years</text>
<line x1="296.9" y1="332.9" x2="308.1" y2="332.9" stroke="#c41230" stroke-width="1.5"/>
<line x1="296.9" y1="339.8" x2="303.0" y2="339.8" stroke="#2eac45" stroke-width="1.5"/>
<line x1="296.9" y1="346.6" x2="308.1" y2="346.6" stroke="#5b2278" stroke-width="1.5" stroke-dasharray="1.6 4.9"/>
<line x1="296.9" y1="353.3" x2="308.1" y2="353.3" stroke="#f7941d" stroke-width="1.5" stroke-dasharray="1.4 4.9 6.4 4.9"/>
<line x1="296.9" y1="360.1" x2="307.70000000000005" y2="360.1" stroke="#1f5f8e" stroke-width="1.5"/>
<text x="312.80" y="334.80" font-size="6" fill="#222" textLength="109.5" lengthAdjust="spacingAndGlyphs" stroke="#222" stroke-width="0.15">MRD undetectable  (1 event/ 15 cases)</text>
<text x="312.80" y="341.70" font-size="6" fill="#222" textLength="120.3" lengthAdjust="spacingAndGlyphs" stroke="#222" stroke-width="0.15">Detectable up to 10<tspan font-size="3.9" baseline-shift="2.3">−3</tspan>  (1 events/ 20 cases)</text>
<text x="312.80" y="348.50" font-size="6" fill="#222" textLength="89.8" lengthAdjust="spacingAndGlyphs" stroke="#222" stroke-width="0.15">10<tspan font-size="3.9" baseline-shift="2.3">−3</tspan> – 10<tspan font-size="3.9" baseline-shift="2.3">−2</tspan>  (5 events/ 63 cases)</text>
<text x="312.80" y="355.20" font-size="6" fill="#222" textLength="90.5" lengthAdjust="spacingAndGlyphs" stroke="#222" stroke-width="0.15">10<tspan font-size="3.9" baseline-shift="2.3">−2</tspan> – 10<tspan font-size="3.9" baseline-shift="2.3">−1</tspan>  (5 events/ 73 cases)</text>
<text x="312.80" y="362.00" font-size="6" fill="#222" textLength="80.3" lengthAdjust="spacingAndGlyphs" stroke="#222" stroke-width="0.15">&gt;= 10<tspan font-size="3.9" baseline-shift="2.3">−1</tspan>  (5 events/ 49 cases)</text>
<text x="265.50" y="386.90" font-size="5.9" text-anchor="start" fill="#222" font-weight="normal" textLength="41.8" lengthAdjust="spacingAndGlyphs"  stroke="#222" stroke-width="0.15">Number at risk</text>
<text transform="translate(292.60,392.50) scale(0.9,1)" font-size="6.2" text-anchor="middle" fill="#1a1a1a" stroke="#1a1a1a" stroke-width="0.15">15</text>
<text transform="translate(375.72,392.50) scale(0.9,1)" font-size="6.2" text-anchor="middle" fill="#1a1a1a" stroke="#1a1a1a" stroke-width="0.15">15</text>
<text transform="translate(417.28,392.50) scale(0.9,1)" font-size="6.2" text-anchor="middle" fill="#1a1a1a" stroke="#1a1a1a" stroke-width="0.15">14</text>
<text transform="translate(458.84,392.50) scale(0.9,1)" font-size="6.2" text-anchor="middle" fill="#1a1a1a" stroke="#1a1a1a" stroke-width="0.15">1</text>
<text transform="translate(500.40,392.50) scale(0.9,1)" font-size="6.2" text-anchor="middle" fill="#1a1a1a" stroke="#1a1a1a" stroke-width="0.15">0</text>
<text transform="translate(292.60,398.50) scale(0.9,1)" font-size="6.2" text-anchor="middle" fill="#1a1a1a" stroke="#1a1a1a" stroke-width="0.15">20</text>
<text transform="translate(375.72,398.50) scale(0.9,1)" font-size="6.2" text-anchor="middle" fill="#1a1a1a" stroke="#1a1a1a" stroke-width="0.15">20</text>
<text transform="translate(417.28,398.50) scale(0.9,1)" font-size="6.2" text-anchor="middle" fill="#1a1a1a" stroke="#1a1a1a" stroke-width="0.15">17</text>
<text transform="translate(458.84,398.50) scale(0.9,1)" font-size="6.2" text-anchor="middle" fill="#1a1a1a" stroke="#1a1a1a" stroke-width="0.15">8</text>
<text transform="translate(500.40,398.50) scale(0.9,1)" font-size="6.2" text-anchor="middle" fill="#1a1a1a" stroke="#1a1a1a" stroke-width="0.15">1</text>
<text transform="translate(292.60,404.50) scale(0.9,1)" font-size="6.2" text-anchor="middle" fill="#1a1a1a" stroke="#1a1a1a" stroke-width="0.15">63</text>
<text transform="translate(375.72,404.50) scale(0.9,1)" font-size="6.2" text-anchor="middle" fill="#1a1a1a" stroke="#1a1a1a" stroke-width="0.15">63</text>
<text transform="translate(417.28,404.50) scale(0.9,1)" font-size="6.2" text-anchor="middle" fill="#1a1a1a" stroke="#1a1a1a" stroke-width="0.15">55</text>
<text transform="translate(458.84,404.50) scale(0.9,1)" font-size="6.2" text-anchor="middle" fill="#1a1a1a" stroke="#1a1a1a" stroke-width="0.15">22</text>
<text transform="translate(500.40,404.50) scale(0.9,1)" font-size="6.2" text-anchor="middle" fill="#1a1a1a" stroke="#1a1a1a" stroke-width="0.15">0</text>
<text transform="translate(292.60,410.50) scale(0.9,1)" font-size="6.2" text-anchor="middle" fill="#1a1a1a" stroke="#1a1a1a" stroke-width="0.15">73</text>
<text transform="translate(375.72,410.50) scale(0.9,1)" font-size="6.2" text-anchor="middle" fill="#1a1a1a" stroke="#1a1a1a" stroke-width="0.15">73</text>
<text transform="translate(417.28,410.50) scale(0.9,1)" font-size="6.2" text-anchor="middle" fill="#1a1a1a" stroke="#1a1a1a" stroke-width="0.15">65</text>
<text transform="translate(458.84,410.50) scale(0.9,1)" font-size="6.2" text-anchor="middle" fill="#1a1a1a" stroke="#1a1a1a" stroke-width="0.15">33</text>
<text transform="translate(500.40,410.50) scale(0.9,1)" font-size="6.2" text-anchor="middle" fill="#1a1a1a" stroke="#1a1a1a" stroke-width="0.15">3</text>
<text transform="translate(292.60,416.50) scale(0.9,1)" font-size="6.2" text-anchor="middle" fill="#1a1a1a" stroke="#1a1a1a" stroke-width="0.15">49</text>
<text transform="translate(375.72,416.50) scale(0.9,1)" font-size="6.2" text-anchor="middle" fill="#1a1a1a" stroke="#1a1a1a" stroke-width="0.15">49</text>
<text transform="translate(417.28,416.50) scale(0.9,1)" font-size="6.2" text-anchor="middle" fill="#1a1a1a" stroke="#1a1a1a" stroke-width="0.15">40</text>
<text transform="translate(458.84,416.50) scale(0.9,1)" font-size="6.2" text-anchor="middle" fill="#1a1a1a" stroke="#1a1a1a" stroke-width="0.15">16</text>
<text transform="translate(500.40,416.50) scale(0.9,1)" font-size="6.2" text-anchor="middle" fill="#1a1a1a" stroke="#1a1a1a" stroke-width="0.15">2</text>
<path d="M292.00,229.90H439.70V244.80H494.00" fill="none" stroke="#c41230" stroke-width="1.5" stroke-linejoin="miter"/>
<path d="M292.00,229.90H474.40V248.80H497.00" fill="none" stroke="#2eac45" stroke-width="1.5" stroke-dasharray="6.2 6.65" stroke-linejoin="miter"/>
<path d="M292.00,229.90H409.00V232.20H428.00V233.60H433.00V235.30H443.00V238.30H447.00V241.30H450.00V242.50H492.50V263.50H497.50" fill="none" stroke="#5b2278" stroke-width="1.5" stroke-dasharray="1.6 4.83" stroke-linejoin="miter"/>
<path d="M292.00,229.90H420.20V234.00H444.00V237.30H462.00V241.20H481.00V250.50H501.50" fill="none" stroke="#f7941d" stroke-width="1.5" stroke-dasharray="1.6 4.83 6.43 4.83" stroke-linejoin="miter"/>
<path d="M292.00,229.90H386.00V232.40H391.50V235.60H395.50V238.40H404.60V241.10H432.00V244.80H505.40" fill="none" stroke="#1f5f8e" stroke-width="1.5" stroke-dasharray="10.9 5.17" stroke-linejoin="miter"/>
<text transform="translate(262.0,425.8) scale(1.01,1)" font-size="12.2" font-weight="bold" fill="#111" stroke="#111" stroke-width="0.15">F</text>
<text x="398.70" y="430.60" font-size="9.2" text-anchor="middle" fill="#1a1a1a" font-weight="normal" textLength="97.3" lengthAdjust="spacingAndGlyphs" stroke="#1a1a1a" stroke-width="0.6">IR, MRD at 36 months</text>
<line x1="284.1" y1="430.2" x2="284.1" y2="574.8" stroke="#3a3a3a" stroke-width="1.1"/>
<line x1="280.90000000000003" y1="569.40" x2="284.1" y2="569.40" stroke="#3a3a3a" stroke-width="1"/>
<text transform="translate(277.50,569.40) rotate(-90)" font-size="6.4" text-anchor="middle" fill="#444" stroke="#444" stroke-width="0.15">0.0</text>
<line x1="280.90000000000003" y1="542.62" x2="284.1" y2="542.62" stroke="#3a3a3a" stroke-width="1"/>
<text transform="translate(277.50,542.62) rotate(-90)" font-size="6.4" text-anchor="middle" fill="#444" stroke="#444" stroke-width="0.15">0.2</text>
<line x1="280.90000000000003" y1="515.84" x2="284.1" y2="515.84" stroke="#3a3a3a" stroke-width="1"/>
<text transform="translate(277.50,515.84) rotate(-90)" font-size="6.4" text-anchor="middle" fill="#444" stroke="#444" stroke-width="0.15">0.4</text>
<line x1="280.90000000000003" y1="489.06" x2="284.1" y2="489.06" stroke="#3a3a3a" stroke-width="1"/>
<text transform="translate(277.50,489.06) rotate(-90)" font-size="6.4" text-anchor="middle" fill="#444" stroke="#444" stroke-width="0.15">0.6</text>
<line x1="280.90000000000003" y1="462.28" x2="284.1" y2="462.28" stroke="#3a3a3a" stroke-width="1"/>
<text transform="translate(277.50,462.28) rotate(-90)" font-size="6.4" text-anchor="middle" fill="#444" stroke="#444" stroke-width="0.15">0.8</text>
<line x1="280.90000000000003" y1="435.50" x2="284.1" y2="435.50" stroke="#3a3a3a" stroke-width="1"/>
<text transform="translate(277.50,435.50) rotate(-90)" font-size="6.4" text-anchor="middle" fill="#444" stroke="#444" stroke-width="0.15">1.0</text>
<text transform="translate(267.20,502.00) rotate(-90)" font-size="8.6" text-anchor="middle" fill="#484848" textLength="36.7" lengthAdjust="spacingAndGlyphs" stroke="#484848" stroke-width="0.15">Probability</text>
<line x1="283.6" y1="574.3" x2="513.3" y2="574.3" stroke="#3a3a3a" stroke-width="1.1"/>
<line x1="292.10" y1="574.3" x2="292.10" y2="577.5" stroke="#3a3a3a" stroke-width="1"/>
<text x="292.10" y="584.60" font-size="6.0" text-anchor="middle" fill="#444" font-weight="normal"  stroke="#444" stroke-width="0.15">0</text>
<line x1="333.66" y1="574.3" x2="333.66" y2="577.5" stroke="#3a3a3a" stroke-width="1"/>
<text x="333.66" y="584.60" font-size="6.0" text-anchor="middle" fill="#444" font-weight="normal"  stroke="#444" stroke-width="0.15">1</text>
<line x1="375.22" y1="574.3" x2="375.22" y2="577.5" stroke="#3a3a3a" stroke-width="1"/>
<text x="375.22" y="584.60" font-size="6.0" text-anchor="middle" fill="#444" font-weight="normal"  stroke="#444" stroke-width="0.15">2</text>
<line x1="416.78" y1="574.3" x2="416.78" y2="577.5" stroke="#3a3a3a" stroke-width="1"/>
<text x="416.78" y="584.60" font-size="6.0" text-anchor="middle" fill="#444" font-weight="normal"  stroke="#444" stroke-width="0.15">3</text>
<line x1="458.34" y1="574.3" x2="458.34" y2="577.5" stroke="#3a3a3a" stroke-width="1"/>
<text x="458.34" y="584.60" font-size="6.0" text-anchor="middle" fill="#444" font-weight="normal"  stroke="#444" stroke-width="0.15">4</text>
<line x1="499.90" y1="574.3" x2="499.90" y2="577.5" stroke="#3a3a3a" stroke-width="1"/>
<text x="499.90" y="584.60" font-size="6.0" text-anchor="middle" fill="#444" font-weight="normal"  stroke="#444" stroke-width="0.15">5</text>
<text x="389.70" y="590.40" font-size="9.5" text-anchor="start" fill="#2a2a2a" font-weight="normal" textLength="17.0" lengthAdjust="spacingAndGlyphs" stroke="#2a2a2a" stroke-width="0.25">Years</text>
<line x1="296.9" y1="538.4" x2="308.1" y2="538.4" stroke="#c41230" stroke-width="1.5"/>
<line x1="296.9" y1="545.3" x2="303.0" y2="545.3" stroke="#2eac45" stroke-width="1.5"/>
<line x1="296.9" y1="552.0999999999999" x2="308.1" y2="552.0999999999999" stroke="#5b2278" stroke-width="1.5" stroke-dasharray="1.6 4.9"/>
<line x1="296.9" y1="558.8" x2="308.1" y2="558.8" stroke="#f7941d" stroke-width="1.5" stroke-dasharray="1.4 4.9 6.4 4.9"/>
<line x1="296.9" y1="565.5999999999999" x2="307.70000000000005" y2="565.5999999999999" stroke="#1f5f8e" stroke-width="1.5"/>
<text x="312.80" y="540.30" font-size="6" fill="#222" textLength="112.6" lengthAdjust="spacingAndGlyphs" stroke="#222" stroke-width="0.15">MRD undetectable  (0 events/ 13 cases)</text>
<text x="312.80" y="547.20" font-size="6" fill="#222" textLength="120.3" lengthAdjust="spacingAndGlyphs" stroke="#222" stroke-width="0.15">Detectable up to 10<tspan font-size="3.9" baseline-shift="2.3">−3</tspan>  (0 events/ 18 cases)</text>
<text x="312.80" y="554.00" font-size="6" fill="#222" textLength="89.8" lengthAdjust="spacingAndGlyphs" stroke="#222" stroke-width="0.15">10<tspan font-size="3.9" baseline-shift="2.3">−3</tspan> – 10<tspan font-size="3.9" baseline-shift="2.3">−2</tspan>  (2 events/ 37 cases)</text>
<text x="312.80" y="560.70" font-size="6" fill="#222" textLength="90.5" lengthAdjust="spacingAndGlyphs" stroke="#222" stroke-width="0.15">10<tspan font-size="3.9" baseline-shift="2.3">−2</tspan> – 10<tspan font-size="3.9" baseline-shift="2.3">−1</tspan>  (3 events/ 51 cases)</text>
<text x="312.80" y="567.50" font-size="6" fill="#222" textLength="80.3" lengthAdjust="spacingAndGlyphs" stroke="#222" stroke-width="0.15">&gt;= 10<tspan font-size="3.9" baseline-shift="2.3">−1</tspan>  (2 events/ 17 cases)</text>
<text x="265.50" y="592.40" font-size="5.9" text-anchor="start" fill="#222" font-weight="normal" textLength="41.8" lengthAdjust="spacingAndGlyphs"  stroke="#222" stroke-width="0.15">Number at risk</text>
<text transform="translate(292.60,598.00) scale(0.9,1)" font-size="6.2" text-anchor="middle" fill="#1a1a1a" stroke="#1a1a1a" stroke-width="0.15">13</text>
<text transform="translate(417.28,598.00) scale(0.9,1)" font-size="6.2" text-anchor="middle" fill="#1a1a1a" stroke="#1a1a1a" stroke-width="0.15">13</text>
<text transform="translate(458.84,598.00) scale(0.9,1)" font-size="6.2" text-anchor="middle" fill="#1a1a1a" stroke="#1a1a1a" stroke-width="0.15">4</text>
<text transform="translate(500.40,598.00) scale(0.9,1)" font-size="6.2" text-anchor="middle" fill="#1a1a1a" stroke="#1a1a1a" stroke-width="0.15">0</text>
<text transform="translate(292.60,604.00) scale(0.9,1)" font-size="6.2" text-anchor="middle" fill="#1a1a1a" stroke="#1a1a1a" stroke-width="0.15">18</text>
<text transform="translate(417.28,604.00) scale(0.9,1)" font-size="6.2" text-anchor="middle" fill="#1a1a1a" stroke="#1a1a1a" stroke-width="0.15">18</text>
<text transform="translate(458.84,604.00) scale(0.9,1)" font-size="6.2" text-anchor="middle" fill="#1a1a1a" stroke="#1a1a1a" stroke-width="0.15">9</text>
<text transform="translate(500.40,604.00) scale(0.9,1)" font-size="6.2" text-anchor="middle" fill="#1a1a1a" stroke="#1a1a1a" stroke-width="0.15">2</text>
<text transform="translate(292.60,610.00) scale(0.9,1)" font-size="6.2" text-anchor="middle" fill="#1a1a1a" stroke="#1a1a1a" stroke-width="0.15">37</text>
<text transform="translate(417.28,610.00) scale(0.9,1)" font-size="6.2" text-anchor="middle" fill="#1a1a1a" stroke="#1a1a1a" stroke-width="0.15">37</text>
<text transform="translate(458.84,610.00) scale(0.9,1)" font-size="6.2" text-anchor="middle" fill="#1a1a1a" stroke="#1a1a1a" stroke-width="0.15">19</text>
<text transform="translate(500.40,610.00) scale(0.9,1)" font-size="6.2" text-anchor="middle" fill="#1a1a1a" stroke="#1a1a1a" stroke-width="0.15">0</text>
<text transform="translate(292.60,616.00) scale(0.9,1)" font-size="6.2" text-anchor="middle" fill="#1a1a1a" stroke="#1a1a1a" stroke-width="0.15">51</text>
<text transform="translate(417.28,616.00) scale(0.9,1)" font-size="6.2" text-anchor="middle" fill="#1a1a1a" stroke="#1a1a1a" stroke-width="0.15">51</text>
<text transform="translate(458.84,616.00) scale(0.9,1)" font-size="6.2" text-anchor="middle" fill="#1a1a1a" stroke="#1a1a1a" stroke-width="0.15">34</text>
<text transform="translate(500.40,616.00) scale(0.9,1)" font-size="6.2" text-anchor="middle" fill="#1a1a1a" stroke="#1a1a1a" stroke-width="0.15">2</text>
<text transform="translate(292.60,622.00) scale(0.9,1)" font-size="6.2" text-anchor="middle" fill="#1a1a1a" stroke="#1a1a1a" stroke-width="0.15">17</text>
<text transform="translate(417.28,622.00) scale(0.9,1)" font-size="6.2" text-anchor="middle" fill="#1a1a1a" stroke="#1a1a1a" stroke-width="0.15">17</text>
<text transform="translate(458.84,622.00) scale(0.9,1)" font-size="6.2" text-anchor="middle" fill="#1a1a1a" stroke="#1a1a1a" stroke-width="0.15">8</text>
<text transform="translate(500.40,622.00) scale(0.9,1)" font-size="6.2" text-anchor="middle" fill="#1a1a1a" stroke="#1a1a1a" stroke-width="0.15">2</text>
<path d="M292.00,435.30H490.00" fill="none" stroke="#c41230" stroke-width="1.5" stroke-linejoin="miter"/>
<path d="M292.00,435.30H503.00" fill="none" stroke="#2eac45" stroke-width="1.5" stroke-dasharray="6.2 6.65" stroke-linejoin="miter"/>
<path d="M292.00,435.30H489.90V458.00H492.80V494.60H496.50" fill="none" stroke="#5b2278" stroke-width="1.5" stroke-dasharray="1.6 4.83" stroke-linejoin="miter"/>
<path d="M292.00,435.30H440.80V437.90H446.70V441.50H481.00V451.30H500.00" fill="none" stroke="#f7941d" stroke-width="1.5" stroke-dasharray="1.6 4.83 6.43 4.83" stroke-linejoin="miter"/>
<path d="M292.00,435.30H439.70V445.60H463.30V463.20H499.40" fill="none" stroke="#1f5f8e" stroke-width="1.5" stroke-dasharray="10.9 5.17" stroke-linejoin="miter"/>
<rect x="0" y="0" width="520" height="1.05" fill="#111"/>
<rect x="0" y="0" width="1.1" height="632" fill="#111"/>
<rect x="518.75" y="0" width="1.25" height="632" fill="#111"/>
<rect x="0" y="630.7" width="520" height="1.3" fill="#111"/>
</svg>
</body></html>
